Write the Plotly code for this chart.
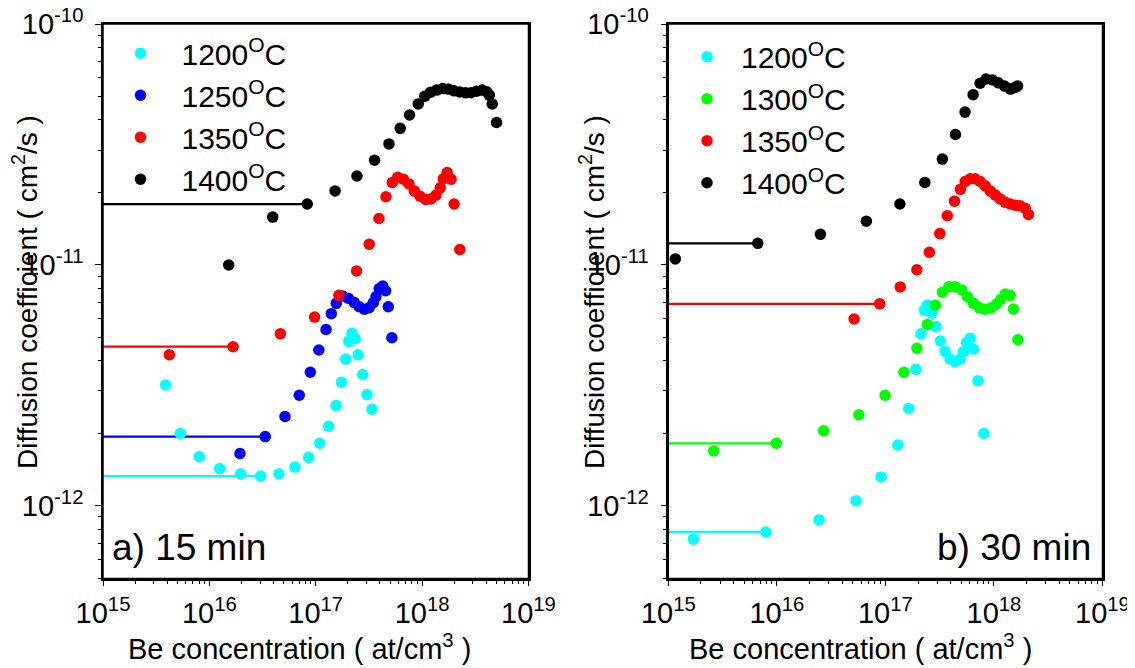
import plotly.graph_objects as go

# ---------------- data ----------------
# panel a) 15 min
a1200_x = [3.88e15, 5.33e15, 8.04e15, 1.25e16, 1.97e16, 3.03e16, 4.51e16, 6.38e16, 8.57e16, 1.09e17,
           1.32e17, 1.55e17, 1.74e17, 1.91e17, 2.04e17, 2.19e17, 2.35e17, 2.51e17, 2.76e17, 3.03e17, 3.37e17]
a1200_y = [3.18e-12, 2.00e-12, 1.60e-12, 1.43e-12, 1.36e-12, 1.33e-12, 1.36e-12, 1.45e-12, 1.59e-12, 1.82e-12,
           2.14e-12, 2.61e-12, 3.26e-12, 4.07e-12, 4.82e-12, 5.21e-12, 4.94e-12, 4.24e-12, 3.51e-12, 2.90e-12, 2.52e-12]
a1250_x = [1.94e16, 3.35e16, 5.14e16, 7.00e16, 8.89e16, 1.07e17, 1.25e17, 1.40e17, 1.56e17, 1.79e17, 2.02e17,
           2.29e17, 2.56e17, 2.86e17, 3.18e17, 3.48e17, 3.68e17, 3.95e17, 4.26e17, 4.54e17, 4.81e17, 5.20e17]
a1250_y = [1.65e-12, 1.94e-12, 2.35e-12, 2.88e-12, 3.59e-12, 4.44e-12, 5.40e-12, 6.28e-12, 6.93e-12, 7.43e-12, 7.28e-12,
           7.00e-12, 6.71e-12, 6.55e-12, 6.65e-12, 6.98e-12, 7.38e-12, 7.98e-12, 8.18e-12, 7.82e-12, 6.71e-12, 4.99e-12]
a1350_x = [4.20e15, 1.67e16, 4.65e16, 9.75e16, 1.65e17, 2.42e17, 3.18e17, 3.93e17, 4.57e17, 5.24e17, 5.89e17, 6.65e17,
           7.52e17, 8.43e17, 9.55e17, 1.08e18, 1.21e18, 1.35e18, 1.48e18, 1.58e18, 1.72e18, 1.87e18, 2.00e18, 2.26e18]
a1350_y = [4.24e-12, 4.58e-12, 5.18e-12, 6.08e-12, 7.48e-12, 9.44e-12, 1.22e-11, 1.56e-11, 1.92e-11, 2.20e-11, 2.31e-11, 2.27e-11,
           2.17e-11, 2.03e-11, 1.93e-11, 1.87e-11, 1.88e-11, 1.95e-11, 2.09e-11, 2.28e-11, 2.42e-11, 2.27e-11, 1.79e-11, 1.16e-11]
a1400_x = [1.52e16, 3.94e16, 8.32e16, 1.52e17, 2.44e17, 3.57e17, 4.88e17, 6.22e17, 7.62e17, 9.20e17, 1.06e18, 1.20e18, 1.37e18,
           1.56e18, 1.76e18, 1.99e18, 2.26e18, 2.56e18, 2.88e18, 3.25e18, 3.67e18, 4.04e18, 4.28e18, 4.56e18, 5.01e18]
a1400_y = [1.00e-11, 1.58e-11, 1.79e-11, 2.03e-11, 2.34e-11, 2.72e-11, 3.18e-11, 3.69e-11, 4.19e-11, 4.66e-11, 5.02e-11, 5.21e-11, 5.32e-11,
           5.40e-11, 5.37e-11, 5.28e-11, 5.22e-11, 5.18e-11, 5.19e-11, 5.26e-11, 5.32e-11, 5.24e-11, 5.07e-11, 4.66e-11, 3.90e-11]

# panel b) 30 min
b1200_x = [1.70e15, 7.94e15, 2.45e16, 5.37e16, 9.12e16, 1.30e17, 1.64e17, 1.91e17, 2.13e17, 2.28e17, 2.44e17, 2.68e17,
           2.93e17, 3.21e17, 3.55e17, 3.94e17, 4.39e17, 4.89e17, 5.24e17, 5.61e17, 6.04e17, 6.47e17, 7.11e17, 8.07e17]
b1200_y = [7.28e-13, 7.80e-13, 8.75e-13, 1.05e-12, 1.32e-12, 1.79e-12, 2.54e-12, 3.69e-12, 5.18e-12, 6.49e-12, 6.82e-12, 6.31e-12,
           5.55e-12, 4.84e-12, 4.37e-12, 4.07e-12, 3.97e-12, 4.07e-12, 4.37e-12, 4.76e-12, 4.97e-12, 4.48e-12, 3.31e-12, 2.00e-12]
b1300_x = [2.62e15, 9.89e15, 2.70e16, 5.69e16, 9.93e16, 1.48e17, 1.95e17, 2.44e17, 2.89e17, 3.35e17, 3.84e17, 4.39e17,
           5.06e17, 5.70e17, 6.47e17, 7.35e17, 8.30e17, 9.42e17, 1.06e18, 1.16e18, 1.27e18, 1.41e18, 1.51e18, 1.66e18]
b1300_y = [1.69e-12, 1.82e-12, 2.05e-12, 2.39e-12, 2.88e-12, 3.59e-12, 4.51e-12, 5.66e-12, 6.81e-12, 7.71e-12, 8.13e-12, 8.13e-12,
           7.87e-12, 7.38e-12, 6.93e-12, 6.64e-12, 6.55e-12, 6.64e-12, 6.89e-12, 7.21e-12, 7.57e-12, 7.48e-12, 6.56e-12, 4.90e-12]
b1350_x = [5.15e16, 8.87e16, 1.37e17, 1.95e17, 2.54e17, 3.17e17, 3.72e17, 4.33e17, 4.91e17, 5.43e17, 6.04e17, 6.71e17,
           7.46e17, 8.30e17, 9.23e17, 1.03e18, 1.14e18, 1.27e18, 1.41e18, 1.57e18, 1.74e18, 1.94e18, 2.08e18]
b1350_y = [5.97e-12, 6.90e-12, 8.11e-12, 9.55e-12, 1.13e-11, 1.35e-11, 1.60e-11, 1.84e-11, 2.06e-11, 2.22e-11, 2.28e-11, 2.28e-11,
           2.22e-11, 2.13e-11, 2.03e-11, 1.95e-11, 1.88e-11, 1.82e-11, 1.79e-11, 1.77e-11, 1.76e-11, 1.72e-11, 1.62e-11]
b1400_x = [1.16e15, 6.67e15, 2.52e16, 6.68e16, 1.36e17, 2.31e17, 3.35e17, 4.42e17, 5.42e17, 6.43e17, 7.46e17, 8.47e17,
           9.68e17, 1.10e18, 1.25e18, 1.42e18, 1.57e18, 1.65e18]
b1400_y = [1.06e-11, 1.23e-11, 1.34e-11, 1.52e-11, 1.79e-11, 2.20e-11, 2.75e-11, 3.48e-11, 4.31e-11, 5.09e-11, 5.68e-11, 5.92e-11,
           5.86e-11, 5.70e-11, 5.53e-11, 5.37e-11, 5.46e-11, 5.53e-11]

# index of the point each horizontal (constant) line runs to from the left axis edge
a_line_idx = {"1200": 5, "1250": 1, "1350": 1, "1400": 2}
b_line_idx = {"1200": 1, "1300": 1, "1350": 1, "1400": 1}

x_tick_vals = [1e15, 1e16, 1e17, 1e18, 1e19]
x_tick_text = ["10<sup>15</sup>", "10<sup>16</sup>", "10<sup>17</sup>", "10<sup>18</sup>", "10<sup>19</sup>"]
y_tick_vals = [1e-12, 1e-11, 1e-10]
y_tick_text = ["10<sup>-12</sup>", "10<sup>-11</sup>", "10<sup>-10</sup>"]

x_title = "Be concentration ( at/cm<sup>3</sup> )"
y_title = "Diffusion coefficient ( cm<sup>2</sup>/s )"
panel_labels = ["a) 15 min", "b) 30 min"]

colors = {"1200": "#00FFFF", "1250": "#0000FF", "1300": "#00FF00", "1350": "#FF0000", "1400": "#000000"}

# ---------------- figure ----------------
FONT = "Arial, Liberation Sans, sans-serif"
OFF = 8                # page body margin in which the figure sits
W, H = 1135, 668


def fx(p):  # page pixel x -> paper fraction
    return (p - OFF) / W


def fy(p):  # page pixel y -> paper fraction
    return 1 - (p - OFF) / H


fig = go.Figure()
X_MIN = 1e15

panel_a = [("1200", a1200_x, a1200_y), ("1250", a1250_x, a1250_y),
           ("1350", a1350_x, a1350_y), ("1400", a1400_x, a1400_y)]
panel_b = [("1200", b1200_x, b1200_y), ("1300", b1300_x, b1300_y),
           ("1350", b1350_x, b1350_y), ("1400", b1400_x, b1400_y)]

for panel, idxmap, xa, ya, leg in [(panel_a, a_line_idx, "x", "y", "legend"),
                                   (panel_b, b_line_idx, "x2", "y2", "legend2")]:
    # constant-value lines
    for name, xs, ys in panel:
        k = idxmap[name]
        fig.add_trace(go.Scatter(x=[X_MIN, xs[k]], y=[ys[k], ys[k]], mode="lines",
                                 line=dict(color=colors[name], width=2.2),
                                 xaxis=xa, yaxis=ya, showlegend=False, hoverinfo="skip"))
    for name, xs, ys in panel:
        fig.add_trace(go.Scatter(x=xs, y=ys, mode="markers", name=f"{name}<sup>O</sup>C",
                                 marker=dict(color=colors[name], size=11.5, line=dict(width=0)),
                                 xaxis=xa, yaxis=ya, legend=leg))


def minor_vals(lo, hi):
    out = []
    for e in range(lo, hi):
        for m in range(2, 10):
            out.append(m * 10.0 ** e)
    return out


x_minor = minor_vals(15, 19)
y_minor = [v for v in minor_vals(-13, -10) if v >= 4.99e-13]

ax_common = dict(type="log", showline=True, linecolor="black", linewidth=1.5, mirror=True,
                 ticks="outside", ticklen=6, tickwidth=1.3, tickcolor="black",
                 showgrid=False, zeroline=False, automargin=False, ticklabeloverflow="allow",
                 tickfont=dict(family=FONT, size=29, color="black"),
                 minor=dict(tickmode="array", tickvals=None, ticks="outside", ticklen=3.5,
                            tickwidth=1.1, tickcolor="black", showgrid=False))

xdoms = [[fx(103), fx(528.5)], [fx(668.3), fx(1102.5)]]
ydom = [fy(578.5), fy(24)]
yr = [-12.30103, -9.99995]

for i, sfx in enumerate(["", "2"]):
    xa = dict(ax_common)
    xa.update(domain=xdoms[i], range=[14.99995, 19.00005], tickmode="array", tickvals=x_tick_vals,
              ticktext=x_tick_text, anchor="y" + sfx, ticklabelstandoff=2)
    xa["minor"] = dict(ax_common["minor"], tickvals=x_minor)
    ya = dict(ax_common)
    ya.update(domain=ydom, range=yr, tickmode="array", tickvals=y_tick_vals,
              ticktext=y_tick_text, anchor="x" + sfx, ticklabelstandoff=6)
    ya["minor"] = dict(ax_common["minor"], tickvals=y_minor)
    fig.update_layout(**{"xaxis" + sfx: xa, "yaxis" + sfx: ya})

# plot frames (full box round each panel)
for sfx in ["", "2"]:
    fig.add_shape(type="rect", xref=f"x{sfx} domain", yref=f"y{sfx} domain",
                  x0=0, x1=1, y0=0, y1=1, line=dict(color="black", width=1.5),
                  fillcolor="rgba(0,0,0,0)", layer="above")

leg_common = dict(xanchor="left", yanchor="top", bgcolor="rgba(0,0,0,0)", borderwidth=0,
                  font=dict(family=FONT, size=30, color="black"))
fig.update_layout(
    legend=dict(leg_common, x=fx(99.5), y=fy(27.3), itemwidth=72),
    legend2=dict(leg_common, x=fx(673), y=fy(30.7), itemwidth=58),
)

ann = []
# axis titles
for cx in [299, 860]:
    ann.append(dict(text=x_title, x=fx(cx), y=fy(647), xref="paper", yref="paper",
                    xanchor="center", yanchor="middle", showarrow=False,
                    font=dict(family=FONT, size=29, color="black")))
for cx in [25, 592]:
    ann.append(dict(text=y_title, x=fx(cx), y=fy(292), xref="paper", yref="paper",
                    xanchor="center", yanchor="middle", textangle=-90, showarrow=False,
                    font=dict(family=FONT, size=28, color="black")))
# panel labels
ann.append(dict(text=panel_labels[0], x=fx(110), y=fy(547), xref="paper", yref="paper",
                xanchor="left", yanchor="middle", showarrow=False,
                font=dict(family=FONT, size=37, color="black")))
ann.append(dict(text=panel_labels[1], x=fx(1093), y=fy(547), xref="paper", yref="paper",
                xanchor="right", yanchor="middle", showarrow=False,
                font=dict(family=FONT, size=37, color="black")))

fig.update_layout(width=W, height=H, autosize=False,
                  margin=dict(l=0, r=0, t=0, b=0, pad=0, autoexpand=False),
                  paper_bgcolor="white", plot_bgcolor="white", annotations=ann,
                  font=dict(family=FONT, color="black"))

fig.write_html("out.html")
